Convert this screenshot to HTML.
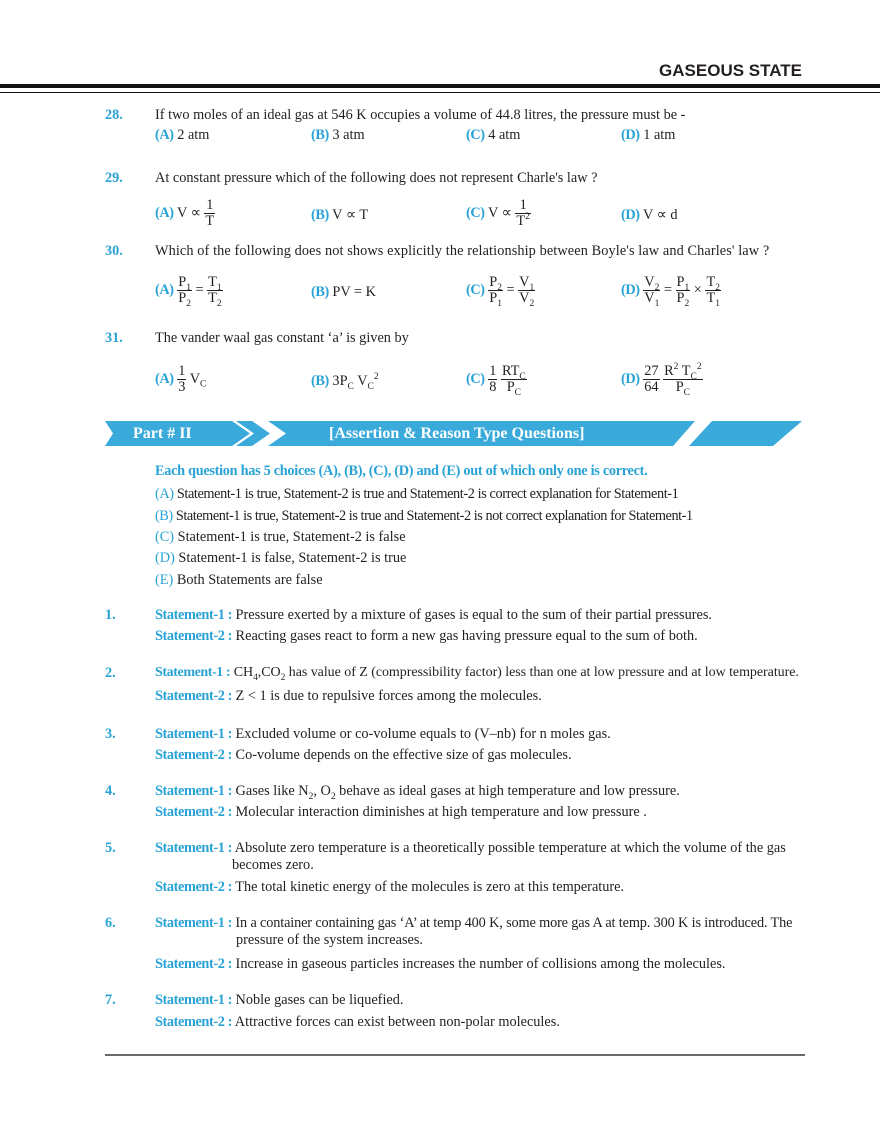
<!DOCTYPE html>
<html><head><meta charset="utf-8">
<style>
body{margin:0;background:#fff;}
#p{position:relative;width:880px;height:1139px;overflow:hidden;font-family:"Liberation Serif",serif;font-size:14.3px;color:#231f20;}
.l{position:absolute;white-space:nowrap;line-height:16px;}
.b{color:#29a3d6;font-weight:bold;letter-spacing:-0.4px;}
.o{color:#29a3d6;}
.n{position:absolute;left:105px;color:#29a3d6;font-weight:bold;line-height:16px;}
.f{display:inline-block;vertical-align:middle;text-align:center;line-height:15px;}
.f>span{display:block;padding:0 1px;}
.f>span:first-child{border-bottom:1px solid #231f20;}
sub,sup{font-size:9.5px;line-height:0;}
</style></head><body><div id="p">
<div class="l" style="right:78px;top:61px;font-family:'Liberation Sans',sans-serif;font-weight:bold;font-size:17px;line-height:20px">GASEOUS STATE</div>
<div style="position:absolute;left:0;top:84px;width:880px;height:4px;background:#111"></div>
<div style="position:absolute;left:0;top:92px;width:880px;height:1px;background:#111"></div>

<div class="n" style="top:107px">28.</div>
<div class="l" style="left:155px;top:107px">If two moles of an ideal gas at 546 K occupies a volume of 44.8 litres, the pressure must be -</div>
<div class="l" style="left:155px;top:127px"><span class="b">(A)</span> 2 atm</div>
<div class="l" style="left:311px;top:127px"><span class="b">(B)</span> 3 atm</div>
<div class="l" style="left:466px;top:127px"><span class="b">(C)</span> 4 atm</div>
<div class="l" style="left:621px;top:127px"><span class="b">(D)</span> 1 atm</div>

<div class="n" style="top:170px">29.</div>
<div class="l" style="left:155px;top:170px">At constant pressure which of the following does not represent Charle's law ?</div>
<div class="l" style="left:155px;top:198px"><span class="b">(A)</span> V ∝ <span class="f"><span>1</span><span>T</span></span></div>
<div class="l" style="left:311px;top:207px"><span class="b">(B)</span> V ∝ T</div>
<div class="l" style="left:466px;top:198px"><span class="b">(C)</span> V ∝ <span class="f"><span>1</span><span>T<sup>2</sup></span></span></div>
<div class="l" style="left:621px;top:207px"><span class="b">(D)</span> V ∝ d</div>

<div class="n" style="top:243px">30.</div>
<div class="l" style="left:155px;top:243px;letter-spacing:0.1px">Which of the following does not shows explicitly the relationship between Boyle's law and Charles' law ?</div>
<div class="l" style="left:155px;top:275px"><span class="b">(A)</span> <span class="f"><span>P<sub>1</sub></span><span>P<sub>2</sub></span></span> = <span class="f"><span>T<sub>1</sub></span><span>T<sub>2</sub></span></span></div>
<div class="l" style="left:311px;top:284px"><span class="b">(B)</span> PV = K</div>
<div class="l" style="left:466px;top:275px"><span class="b">(C)</span> <span class="f"><span>P<sub>2</sub></span><span>P<sub>1</sub></span></span> = <span class="f"><span>V<sub>1</sub></span><span>V<sub>2</sub></span></span></div>
<div class="l" style="left:621px;top:275px"><span class="b">(D)</span> <span class="f"><span>V<sub>2</sub></span><span>V<sub>1</sub></span></span> = <span class="f"><span>P<sub>1</sub></span><span>P<sub>2</sub></span></span> × <span class="f"><span>T<sub>2</sub></span><span>T<sub>1</sub></span></span></div>

<div class="n" style="top:330px">31.</div>
<div class="l" style="left:155px;top:330px">The vander waal gas constant ‘a’ is given by</div>
<div class="l" style="left:155px;top:364px"><span class="b">(A)</span> <span class="f"><span>1</span><span>3</span></span> V<sub>C</sub></div>
<div class="l" style="left:311px;top:373px"><span class="b">(B)</span> 3P<sub>C</sub> V<sub>C</sub><sup>2</sup></div>
<div class="l" style="left:466px;top:364px"><span class="b">(C)</span> <span class="f"><span>1</span><span>8</span></span> <span class="f"><span>RT<sub>C</sub></span><span>P<sub>C</sub></span></span></div>
<div class="l" style="left:621px;top:364px"><span class="b">(D)</span> <span class="f"><span>27</span><span>64</span></span> <span class="f"><span>R<sup>2</sup> T<sub>C</sub><sup>2</sup></span><span>P<sub>C</sub></span></span></div>

<svg style="position:absolute;left:0;top:0" width="880" height="1139">
<polygon points="105,421 232,421 250,433.5 232,446 105,446 113,433.5" fill="#3aaadb"/>
<polygon points="236,421 252,421 270,433.5 252,446 236,446 254,433.5" fill="#3aaadb"/>
<polygon points="268,421 695,421 673,446 268,446 286,433.5" fill="#3aaadb"/>
<polygon points="712,421 802,421 773,446 689,446" fill="#3aaadb"/>
<line x1="105" y1="1055" x2="805" y2="1055" stroke="#111" stroke-width="1.2"/>
</svg>
<div class="l" style="left:133px;top:424px;color:#fff;font-weight:bold;font-size:16px;line-height:20px">Part # II</div>
<div class="l" style="left:329px;top:424px;color:#fff;font-weight:bold;font-size:16px;line-height:20px">[Assertion &amp; Reason Type Questions]</div>

<div class="l b" style="left:155px;top:463px;letter-spacing:-0.3px">Each question has 5 choices (A), (B), (C), (D) and (E) out of which only one is correct.</div>
<div class="l" style="left:155px;top:486px;letter-spacing:-0.4px"><span class="o">(A)</span> Statement-1 is true, Statement-2 is true and Statement-2 is correct explanation for Statement-1</div>
<div class="l" style="left:155px;top:508px;letter-spacing:-0.45px"><span class="o">(B)</span> Statement-1 is true, Statement-2 is true and Statement-2 is not correct explanation for Statement-1</div>
<div class="l" style="left:155px;top:529px"><span class="o">(C)</span> Statement-1 is true, Statement-2 is false</div>
<div class="l" style="left:155px;top:550px"><span class="o">(D)</span> Statement-1 is false, Statement-2 is true</div>
<div class="l" style="left:155px;top:572px"><span class="o">(E)</span> Both Statements are false</div>

<div class="n" style="top:607px">1.</div>
<div class="l" style="left:155px;top:607px"><span class="b">Statement-1 :</span> Pressure exerted by a mixture of gases is equal to the sum of their partial pressures.</div>
<div class="l" style="left:155px;top:628px"><span class="b">Statement-2 :</span> Reacting gases react to form a new gas having pressure equal to the sum of both.</div>

<div class="n" style="top:665px">2.</div>
<div class="l" style="left:155px;top:665px;font-size:14px;letter-spacing:-0.05px"><span class="b">Statement-1 :</span> CH<sub>4</sub>,CO<sub>2</sub> has value of Z (compressibility factor) less than one at low pressure and at low temperature.</div>
<div class="l" style="left:155px;top:688px"><span class="b">Statement-2 :</span> Z &lt; 1 is due to repulsive forces among the molecules.</div>

<div class="n" style="top:726px">3.</div>
<div class="l" style="left:155px;top:726px"><span class="b">Statement-1 :</span> Excluded volume or co-volume equals to (V–nb) for n moles gas.</div>
<div class="l" style="left:155px;top:747px"><span class="b">Statement-2 :</span> Co-volume depends on the effective size of gas molecules.</div>

<div class="n" style="top:783px">4.</div>
<div class="l" style="left:155px;top:783px"><span class="b">Statement-1 :</span> Gases like N<sub>2</sub>, O<sub>2</sub> behave as ideal gases at high temperature and low pressure.</div>
<div class="l" style="left:155px;top:804px"><span class="b">Statement-2 :</span> Molecular interaction diminishes at high temperature and low pressure .</div>

<div class="n" style="top:840px">5.</div>
<div class="l" style="left:155px;top:840px"><span class="b">Statement-1 :</span> Absolute zero temperature is a theoretically possible temperature at which the volume of the gas</div>
<div class="l" style="left:232px;top:857px">becomes zero.</div>
<div class="l" style="left:155px;top:879px"><span class="b">Statement-2 :</span> The total kinetic energy of the molecules is zero at this temperature.</div>

<div class="n" style="top:915px">6.</div>
<div class="l" style="left:155px;top:915px;letter-spacing:-0.15px"><span class="b">Statement-1 :</span> In a container containing gas ‘A’ at temp 400 K, some more gas A at temp. 300 K is introduced. The</div>
<div class="l" style="left:236px;top:932px">pressure of the system increases.</div>
<div class="l" style="left:155px;top:956px"><span class="b">Statement-2 :</span> Increase in gaseous particles increases the number of collisions among the molecules.</div>

<div class="n" style="top:992px">7.</div>
<div class="l" style="left:155px;top:992px"><span class="b">Statement-1 :</span> Noble gases can be liquefied.</div>
<div class="l" style="left:155px;top:1014px"><span class="b">Statement-2 :</span> Attractive forces can exist between non-polar molecules.</div>
</div></body></html>
